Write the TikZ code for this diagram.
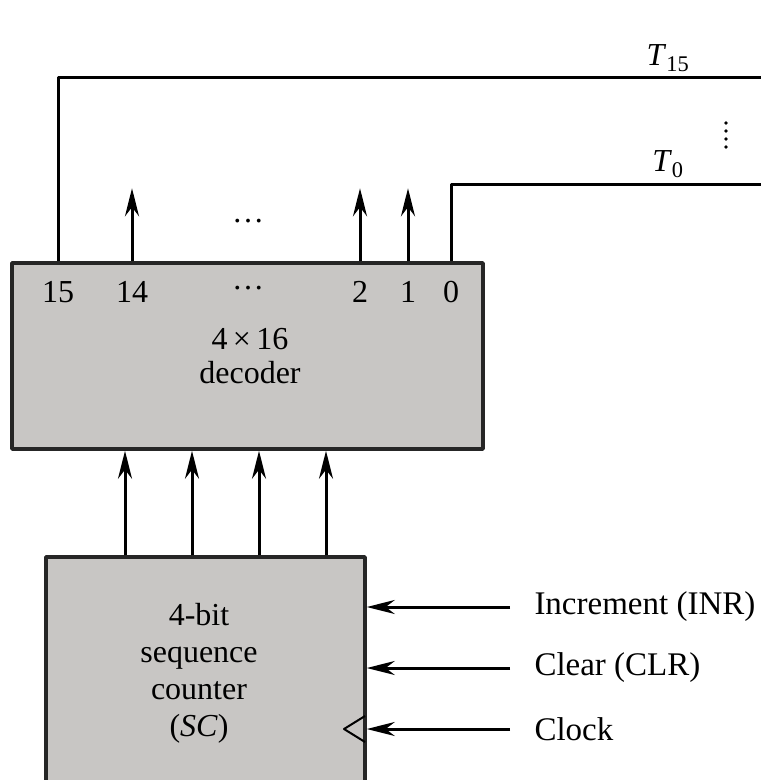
\documentclass[tikz,border=0pt]{standalone}
\usepackage{fontspec}
\setmainfont{Liberation Serif}
\usetikzlibrary{arrows.meta}
\definecolor{boxgray}{RGB}{200,198,196}
\begin{document}
\begin{tikzpicture}[x=1pt, y=-1pt, line width=3pt, line join=round, >={Stealth[length=28pt,width=14pt]},
	font=\fontsize{32}{36}\selectfont,
	blk/.style={draw=black!85, fill=boxgray, line width=3.5pt, inner sep=0pt},
	lbl/.style={inner sep=0pt, anchor=west, font=\fontsize{33}{36}\selectfont}]
				\useasboundingbox (0,0) rectangle (761,780);
				\clip (0,0) rectangle (761,780);
				\node[blk, minimum width=471pt, minimum height=186pt] (dec) at (247.5,356) {};
				\node[blk, minimum width=319pt, minimum height=250pt] (cnt) at (205.5,682) {};
				\node (o15) at (58,292) {15};
				\node (o14) at (132,292) {14};
				\node (odots) at (248,288) {\dots};
				\node (o2) at (360,292) {2};
				\node (o1) at (408,292) {1};
				\node (o0) at (451,292) {0};
				\node[align=center, font=\fontsize{32}{34}\selectfont] (dtxt) at (250,356) {4\,×\,16\\decoder};
				\node[align=center, font=\fontsize{32}{37}\selectfont] (ctxt) at (199,673) {4-bit\\sequence\\counter\\(\textit{SC})};
				\coordinate (t15) at (761,77);
				\coordinate (t0) at (761,184);
				\draw (dec.north -| o15) |- (t15);
				\draw (dec.north -| o0) |- (t0);
				\node (l15) at (668,58) {\textit{T}\textsubscript{15}};
				\node (l0) at (668,164) {\textit{T}\textsubscript{0}};
				\foreach \y in {123,131,139,147}
					\fill (726,\y) circle (1.8pt);
				\foreach \n in {14,2,1}
					\draw[->] (dec.north -| o\n) -- ++(0,-73);
				\node (udots) at (248,221) {\dots};
				\foreach \x in {125,192,259,326}
					\draw[->] (\x,0 |- cnt.north) -- (\x,0 |- dec.south);
				\coordinate (inr) at (510,607);
				\coordinate (clr) at (510,668);
				\coordinate (clk) at (510,729);
				\draw[->] (inr) -- (cnt.east |- inr);
				\draw[->] (clr) -- (cnt.east |- clr);
				\draw[->] (clk) -- (cnt.east |- clk);
				\draw[line width=2pt] (365,716) -- (344,729) -- (365,742);
				\node[lbl] (linr) at (533,607) {Increment (INR)};
				\node[lbl] (lclr) at (533,668) {Clear (CLR)};
				\node[lbl] (lclk) at (533,729) {Clock};
			\end{tikzpicture}
\end{document}
